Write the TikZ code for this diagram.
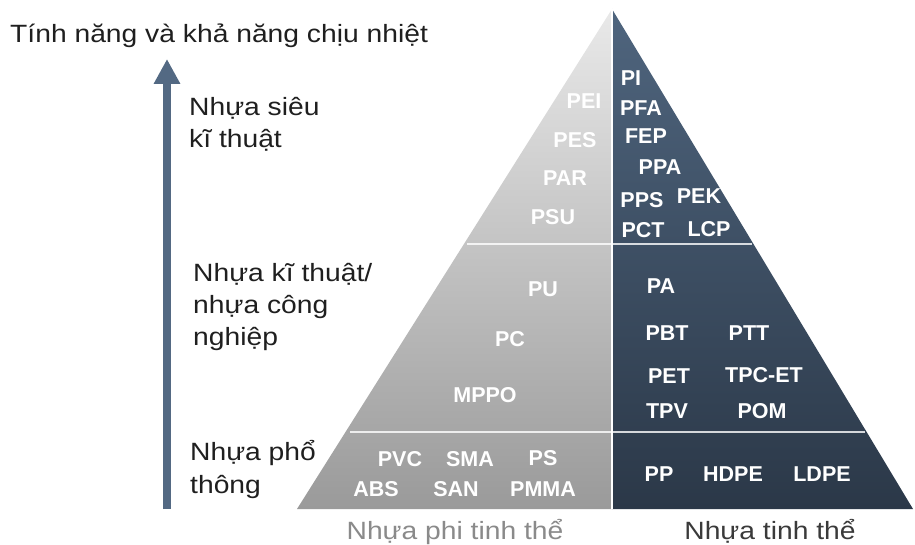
\documentclass[tikz,border=0pt]{standalone}
\usepackage{fontspec}
\setmainfont{Liberation Sans}
\newfontfamily\widefont[FakeStretch=1.13]{Liberation Sans}
\usetikzlibrary{arrows.meta}
\definecolor{lefttop}{HTML}{E9E9E9}
\definecolor{leftbot}{HTML}{9A9A9A}
\definecolor{righttop}{HTML}{4F657E}
\definecolor{rightbot}{HTML}{2B3848}
\definecolor{arrowcol}{HTML}{536983}
\definecolor{graytext}{HTML}{8A8A8A}
\definecolor{darktext}{HTML}{3A3A3A}
\tikzset{
  plast/.style={text=white, font=\fontsize{21.5}{24}\selectfont\bfseries, inner sep=0pt, anchor=center},
  level/.style={text=black!88, font=\widefont\fontsize{25}{28}\selectfont, inner sep=0pt, anchor=base west},
  foot/.style={font=\widefont\fontsize{25}{28}\selectfont, inner sep=0pt, anchor=base},
  divider/.style={draw=white, opacity=0.8, line width=1.6pt}
}
\begin{document}
\begin{tikzpicture}[x=1pt,y=-1pt]
\useasboundingbox (0,0) rectangle (915,545);
% pyramid corners
\coordinate (apex) at (612,9);
\coordinate (bm) at (612,509);
\coordinate (bl) at (297,509);
\coordinate (br) at (913,509);
\shade[top color=lefttop, bottom color=leftbot] (apex) -- (bm) -- (bl) -- cycle;
\shade[top color=righttop, bottom color=rightbot] (apex) -- (br) -- (bm) -- cycle;
\draw[white, line width=1.3pt] (apex) -- (bm);
% level dividers
\coordinate (d1l) at (467,244);
\coordinate (d1r) at (752,244);
\coordinate (d2l) at (350,432);
\coordinate (d2r) at (865,432);
\draw[divider] (d1l) -- (d1r);
\draw[divider] (d2l) -- (d2r);
% arrow
\coordinate (arrS) at (167,509);
\coordinate (arrE) at (167,59);
\draw[arrowcol, line width=8pt, -{Triangle[width=25pt,length=25pt]}] (arrS) -- (arrE);
% title
\node[level] (title) at (10,43) {Tính năng và khả năng chịu nhiệt};
% level labels
\node[level] (sup1) at (189,116) {Nhựa siêu};
\node[level] (sup2) at (189,148) {kĩ thuật};
\node[level] (eng1) at (193,281) {Nhựa kĩ thuật/};
\node[level] (eng2) at (193,313) {nhựa công};
\node[level] (eng3) at (193,345) {nghiệp};
\node[level] (com1) at (190,460) {Nhựa phổ};
\node[level] (com2) at (190,493) {thông};
% super engineering
\node[plast] (pei) at (584,101) {PEI};
\node[plast] (pes) at (575,140) {PES};
\node[plast] (par) at (565,178) {PAR};
\node[plast] (psu) at (553,217) {PSU};
\node[plast] (pi) at (631,78) {PI};
\node[plast] (pfa) at (641,108) {PFA};
\node[plast] (fep) at (646,136) {FEP};
\node[plast] (ppa) at (660,167) {PPA};
\node[plast] (pps) at (642,200) {PPS};
\node[plast] (pek) at (699,196) {PEK};
\node[plast] (pct) at (643,230) {PCT};
\node[plast] (lcp) at (709,229) {LCP};
% engineering
\node[plast] (pu) at (543,289) {PU};
\node[plast] (pc) at (510,339) {PC};
\node[plast] (mppo) at (485,395) {MPPO};
\node[plast] (pa) at (661,286) {PA};
\node[plast] (pbt) at (667,333) {PBT};
\node[plast] (ptt) at (749,333) {PTT};
\node[plast] (pet) at (669,376) {PET};
\node[plast] (tpcet) at (764,375) {TPC-ET};
\node[plast] (tpv) at (667,411) {TPV};
\node[plast] (pom) at (762,411) {POM};
% commodity
\node[plast] (pvc) at (400,459) {PVC};
\node[plast] (sma) at (470,459) {SMA};
\node[plast] (ps) at (543,458) {PS};
\node[plast] (abs) at (376,489) {ABS};
\node[plast] (san) at (456,489) {SAN};
\node[plast] (pmma) at (543,489) {PMMA};
\node[plast] (pp) at (659,474) {PP};
\node[plast] (hdpe) at (733,474) {HDPE};
\node[plast] (ldpe) at (822,474) {LDPE};
% footers
\node[foot, text=graytext] (amorph) at (455,539) {Nhựa phi tinh thể};
\node[foot, text=darktext] (cryst) at (770,539) {Nhựa tinh thể};
\end{tikzpicture}
\end{document}
